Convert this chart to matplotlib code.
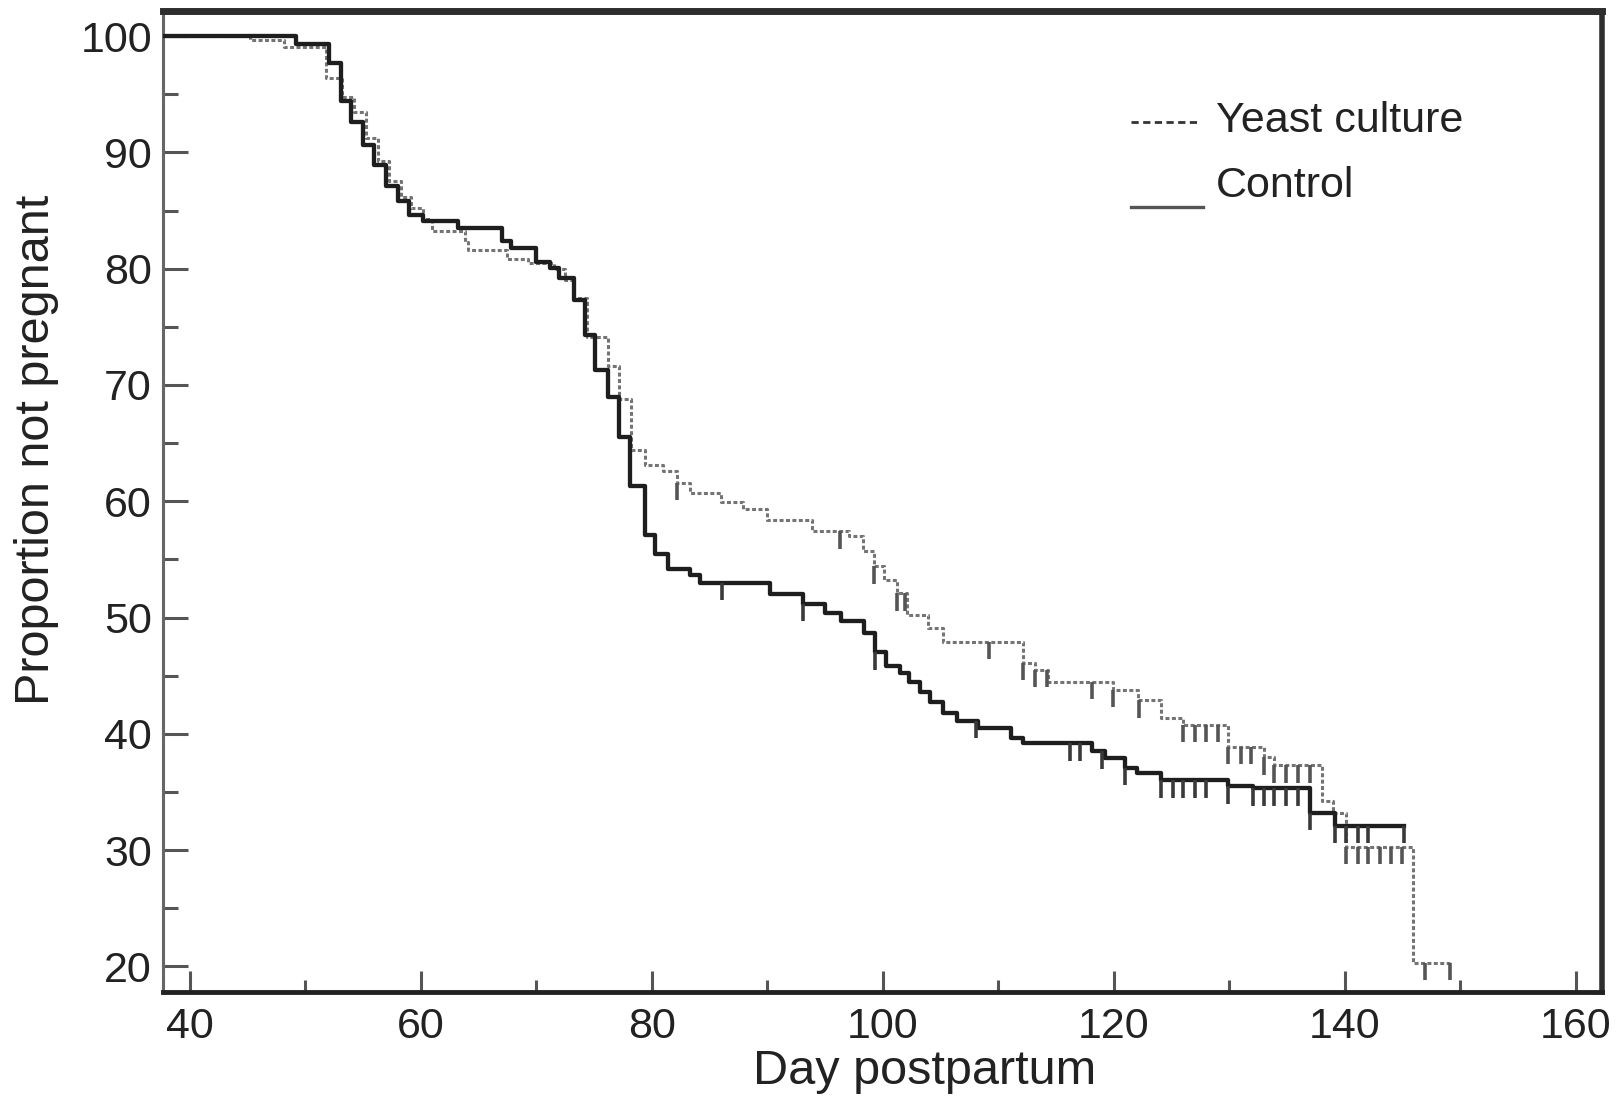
import numpy as np
import matplotlib
matplotlib.use("Agg")
import matplotlib.pyplot as plt
from matplotlib.lines import Line2D

plt.rcParams['font.family'] = ['Liberation Sans', 'DejaVu Sans']

# ---------------- data ----------------
# Control: step times (day) and proportion not pregnant after each step
ctrl_t = [0, 49.2, 52.1, 53.1, 54.0, 55.0, 56.0, 57.0, 58.0, 59.0, 60.2, 63.2, 67.0, 67.8,
          70.0, 71.2, 72.0, 73.3, 74.2, 75.1, 76.2, 77.2, 78.1, 79.4, 80.3, 81.4, 83.3, 84.2,
          90.2, 93.1, 95.0, 96.4, 98.4, 99.3, 100.3, 101.5, 102.3, 103.2, 104.1, 105.2, 106.4,
          108.2, 111.1, 112.1, 118.1, 119.2, 121.0, 122.0, 124.1, 129.9, 132.0, 137.0, 139.1]
ctrl_s = [100, 99.3, 97.7, 94.4, 92.6, 90.6, 88.9, 87.1, 85.8, 84.6, 84.1, 83.5, 82.4, 81.8,
          80.6, 80.1, 79.2, 77.3, 74.3, 71.3, 69.0, 65.5, 61.3, 57.1, 55.5, 54.2, 53.7, 53.0,
          52.0, 51.2, 50.4, 49.7, 48.7, 47.0, 45.8, 45.2, 44.5, 43.6, 42.7, 41.8, 41.1,
          40.5, 39.6, 39.2, 38.5, 37.9, 37.1, 36.6, 36.0, 35.5, 35.3, 33.2, 32.1]
ctrl_end = 145.1
ctrl_cens = [86.1, 93.1, 99.3, 108.1, 116.2, 117.1, 119.0, 121.0, 124.1, 125.1, 126.0, 127.0,
             128.0, 129.9, 132.0, 133.0, 133.9, 134.9, 135.9, 137.0, 139.1, 140.1, 141.1,
             142.0, 145.1]

# Yeast culture
yeast_t = [0, 45.2, 48.2, 51.8, 53.2, 54.2, 55.3, 56.3, 57.3, 58.3, 59.2, 60.2, 61.0, 63.8,
           64.1, 67.5, 69.3, 71.5, 72.5, 73.3, 74.4, 76.2, 77.2, 78.2, 79.4, 81.0, 82.2, 83.3,
           86.0, 87.9, 90.0, 93.9, 97.1, 98.3, 99.2, 100.1, 101.2, 102.1, 103.9, 105.2, 112.1,
           113.2, 114.3, 119.9, 122.1, 124.1, 126.0, 129.9, 133.0, 133.9, 138.0, 139.0, 140.1,
           145.9]
yeast_s = [100, 99.7, 99.1, 96.4, 94.8, 93.5, 91.2, 89.3, 87.5, 86.2, 85.2, 84.3, 83.2, 82.3,
           81.6, 80.8, 80.5, 80.0, 79.0, 77.5, 74.1, 71.6, 68.8, 64.4, 63.1, 62.6, 61.6, 60.7,
           59.9, 59.3, 58.4, 57.4, 57.0, 55.7, 54.4, 53.2, 52.1, 50.2, 49.1, 47.9, 46.1,
           45.5, 44.5, 43.8, 42.9, 41.4, 40.8, 38.9, 38.0, 37.3, 34.2, 33.2, 30.3,
           20.3]
yeast_end = 149.1
yeast_cens = [82.2, 96.3, 99.2, 101.2, 101.9, 109.2, 112.1, 113.2, 114.2, 118.1, 119.9, 122.2,
              126.0, 127.0, 128.0, 129.0, 129.9, 131.0, 131.9, 133.0, 133.9, 134.9, 135.9,
              137.0, 140.1, 141.1, 142.0, 143.0, 144.0, 144.9, 146.9, 149.1]

x_ticks = [40, 60, 80, 100, 120, 140, 160]
y_ticks = [20, 30, 40, 50, 60, 70, 80, 90, 100]
labels = ["Yeast culture", "Control"]

# ---------------- figure ----------------
W, H, DPI = 1623, 1104, 100
fig = plt.figure(figsize=(W / DPI, H / DPI), dpi=DPI)
ax = fig.add_axes([163 / W, 1 - 992 / H, (1602 - 163) / W, (992 - 10.5) / H])


def surv_at(times, surv, t):
    idx = np.searchsorted(times, t, side='right') - 1
    return np.asarray(surv)[idx]


CEN = 1.5
# yeast culture (dashed grey)
yt = list(yeast_t) + [yeast_end]
ys = list(yeast_s) + [yeast_s[-1]]
ax.step(yt, ys, where='post', color='#747474', lw=2.2, linestyle=(0, (1.3, 0.8)), zorder=3)
yc = surv_at(yeast_t, yeast_s, np.array(yeast_cens))
ax.vlines(yeast_cens, yc - CEN, yc, color='#555555', lw=2.6, zorder=3)

# control (solid dark)
ct = list(ctrl_t) + [ctrl_end]
cs = list(ctrl_s) + [ctrl_s[-1]]
ax.step(ct, cs, where='post', color='#1e1e1e', lw=3.1, zorder=4)
cc = surv_at(ctrl_t, ctrl_s, np.array(ctrl_cens))
ax.vlines(ctrl_cens, cc - CEN, cc, color='#3a3a3a', lw=2.6, zorder=4)

ax.set_xlim(37.7, 162.25)
ax.set_ylim(17.8, 102.2)

ax.set_xticks(x_ticks)
ax.set_xticks([50, 70, 90, 110, 130, 150], minor=True)
ax.set_yticks(y_ticks)
ax.set_yticks([25, 35, 45, 55, 65, 75, 85, 95], minor=True)
ax.tick_params(axis='y', which='major', direction='in', length=18, width=2.2,
               color='#555555', labelsize=31, pad=8, labelcolor='#222222')
ax.tick_params(axis='y', which='minor', direction='in', length=11, width=2.2, color='#555555')
ax.tick_params(axis='x', which='major', direction='in', length=15, width=2.2,
               color='#555555', labelsize=31, pad=11, labelcolor='#222222')
ax.tick_params(axis='x', which='minor', direction='in', length=9, width=2.2, color='#555555')

for side, lw, col in [('top', 5.0, '#2e2e2e'), ('right', 4.0, '#2e2e2e'),
                      ('bottom', 3.5, '#222222'), ('left', 2.2, '#666666')]:
    ax.spines[side].set_linewidth(lw)
    ax.spines[side].set_color(col)

ax.set_xlabel("Day postpartum", fontsize=35, color='#222222')
ax.set_ylabel("Proportion not pregnant", fontsize=35, color='#222222')
ax.xaxis.set_label_coords(0.529, -0.058)
ax.yaxis.set_label_coords(-0.072, 0.552)

# legend (drawn as handles + text in axes fraction)
ax.add_line(Line2D([0.6727, 0.7213], [0.8864, 0.8864], transform=ax.transAxes,
                   color='#333333', lw=2.0, linestyle=(0, (2.6, 1.6))))
ax.add_line(Line2D([0.6727, 0.7227], [0.7998, 0.7998], transform=ax.transAxes,
                   color='#555555', lw=2.4))
ax.text(0.7318, 0.8874, labels[0], transform=ax.transAxes, fontsize=31,
        va='center', ha='left', color='#222222')
ax.text(0.7318, 0.8212, labels[1], transform=ax.transAxes, fontsize=31,
        va='center', ha='left', color='#222222')

fig.savefig("out.png", dpi=DPI)
